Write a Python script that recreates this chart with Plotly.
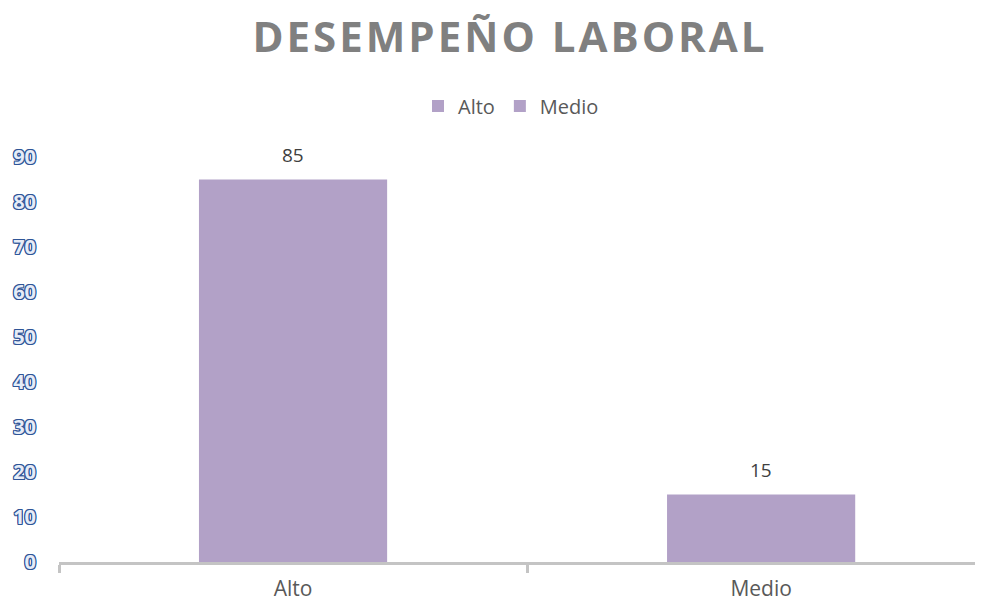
import plotly.graph_objects as go

categories = ["Alto", "Medio"]
values = [85, 15]
y_ticks = [0, 10, 20, 30, 40, 50, 60, 70, 80, 90]
title_text = "DESEMPEÑO LABORAL"

BAR_COLOR = "#B2A1C7"
FONT = "Open Sans"

# page body adds an 8px margin; figure sized/positioned to compensate
W, H = 975, 594

fig = go.Figure()
for cat, val in zip(categories, values):
    fig.add_trace(go.Bar(
        x=[cat], y=[val], name=cat,
        marker=dict(color=BAR_COLOR, line=dict(width=0)),
        width=0.402,
    ))

for cat, val in zip(categories, values):
    fig.add_annotation(
        x=cat, y=val, text=str(val), showarrow=False,
        yanchor="bottom", yshift=10,
        font=dict(family=FONT, size=19, color="#404040"),
    )

outline = "#2F5597"
fig.update_layout(
    width=W, height=H,
    margin=dict(l=51, r=0, t=149, b=40, pad=0, autoexpand=False),
    paper_bgcolor="white", plot_bgcolor="white",
    barmode="overlay",
    showlegend=True,
    title=dict(
        text='<b><span style="letter-spacing:3px">' + title_text + "</span></b>",
        x=502 / W, xref="container", xanchor="center",
        y=1 - 29 / H, yref="container", yanchor="middle",
        font=dict(family=FONT, size=42, color="#808080"),
    ),
    legend=dict(
        orientation="h",
        x=503 / W, xref="container", xanchor="center",
        y=1 - 98 / H, yref="container", yanchor="middle",
        font=dict(family=FONT, size=20, color="#595959"),
        itemwidth=30,
        tracegroupgap=0,
    ),
    xaxis=dict(
        type="category",
        categoryorder="array", categoryarray=categories,
        range=[-0.5, 1.474],
        automargin=False,
        showline=True, linecolor="#C4C4C4", linewidth=3,
        ticks="outside", tickson="boundaries", ticklen=8, tickwidth=3,
        tickcolor="#C4C4C4",
        showgrid=False, zeroline=False,
        tickfont=dict(family=FONT, size=21, color="#595959"),
        ticklabelstandoff=6,
    ),
    yaxis=dict(
        range=[0, 90],
        tickvals=y_ticks,
        automargin=False,
        showgrid=False, zeroline=False, showline=False,
        ticks="",
        ticklabelstandoff=22,
        tickfont=dict(
            family=FONT, size=20, color="#E6ECF7", weight="bold",
            shadow=f"1px 0 0 {outline}, -1px 0 0 {outline}, 0 1px 0 {outline}, 0 -1px 0 {outline}, 1px 1px 0 {outline}, -1px -1px 0 {outline}, 1px -1px 0 {outline}, -1px 1px 0 {outline}",
        ),
    ),
)

fig.write_html("out.html")
